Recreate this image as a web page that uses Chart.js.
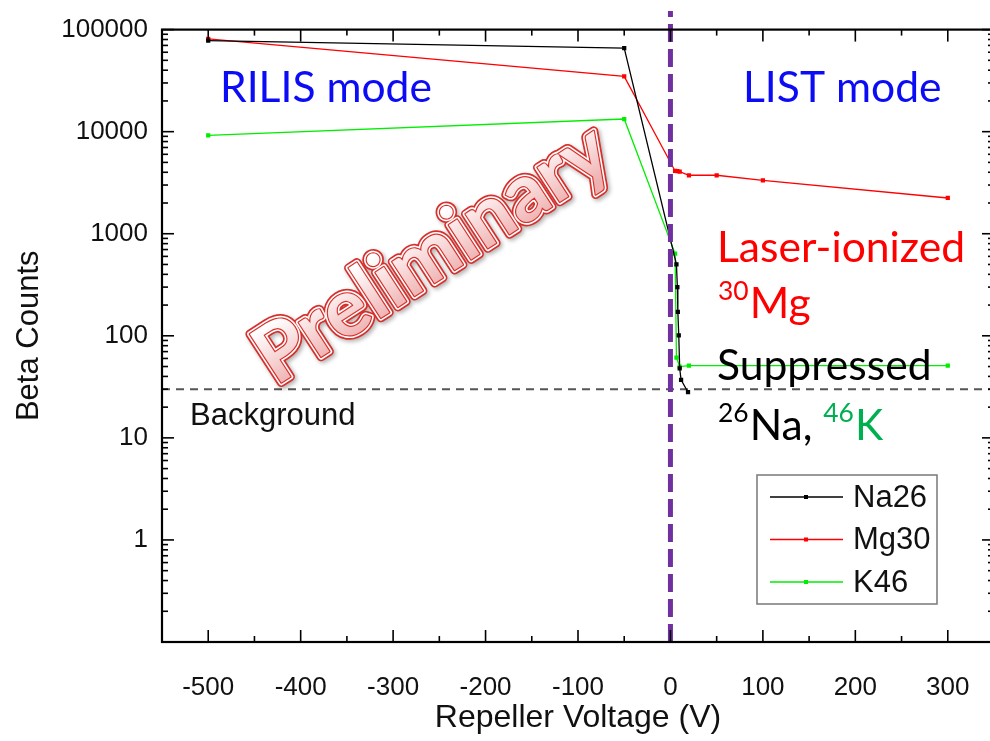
<!DOCTYPE html>
<html>
<head>
<meta charset="utf-8">
<script src="https://cdn.jsdelivr.net/npm/chart.js@4/dist/chart.umd.min.js"></script>
<style>
  html, body { margin: 0; padding: 0; background: #fff; overflow: hidden; }
  #wrap { width: 1000px; height: 741px; }
</style>
</head>
<body>
<div id="wrap"><canvas id="chart" width="1000" height="741"></canvas></div>
<script>
// beta counts vs repeller voltage, one list per isotope
var na26Voltage = [-500, -50, 6.5, 7.5, 8, 9, 10, 11.5, 19];
var na26Counts  = [78000, 65800, 500, 300, 172, 101, 48, 37, 28];
var mg30Voltage = [-500, -50, 5, 7.5, 10, 20, 50, 100, 300];
var mg30Counts  = [81000, 34800, 4120, 4100, 4050, 3740, 3740, 3340, 2240];
var k46Voltage  = [-500, -50, 5, 6.5, 10, 20, 300];
var k46Counts   = [9200, 13300, 640, 61, 50, 51, 51];
var seriesNames = ['Na26', 'Mg30', 'K46'];

var backgroundLevel = 30;
var modeBoundary = 0;
var xRange = [-550, 350];
var yRange = [0.1, 100000];
var xTickValues = [-500, -400, -300, -200, -100, 0, 100, 200, 300];
var yTickValues = [1, 10, 100, 1000, 10000, 100000];

var AXIS_FONT = '"Liberation Sans", Arial, sans-serif';
var NOTE_FONT = 'Lato, "Open Sans", sans-serif';

function pts(xs, ys) {
  return xs.map(function (x, i) { return { x: x, y: ys[i] }; });
}

function series(label, xs, ys, color) {
  return {
    label: label,
    data: pts(xs, ys),
    borderColor: color,
    backgroundColor: color,
    borderWidth: 1.3,
    pointStyle: 'rect',
    pointRadius: 3,
    pointBorderWidth: 0,
    order: 2
  };
}

function fitSize(ctx, text, font, width) {
  ctx.font = font.replace('SIZE', '100px');
  return 100 * width / ctx.measureText(text).width;
}

function line(ctx, x1, y1, x2, y2) {
  ctx.beginPath();
  ctx.moveTo(x1, y1);
  ctx.lineTo(x2, y2);
  ctx.stroke();
}

// box with inward ticks on all four sides
var frameTicks = {
  id: 'frameTicks',
  afterDatasetsDraw: function (chart) {
    var ctx = chart.ctx, a = chart.chartArea;
    var xs = chart.scales.x, ys = chart.scales.y;
    ctx.save();
    ctx.strokeStyle = '#000';
    ctx.lineWidth = 1.6;
    for (var v = -500; v <= 300; v += 50) {
      var px = xs.getPixelForValue(v);
      var len = v % 100 === 0 ? 12 : 6;
      line(ctx, px, a.bottom, px, a.bottom - len);
      line(ctx, px, a.top, px, a.top + len);
    }
    for (var e = -1; e <= 5; e++) {
      for (var m = 1; m < 10; m++) {
        var val = m * Math.pow(10, e);
        if (val <= yRange[0] || val > yRange[1]) continue;
        var py = ys.getPixelForValue(val);
        var l2 = m === 1 ? 12 : 6;
        line(ctx, a.left, py, a.left + l2, py);
        line(ctx, a.right, py, a.right - l2, py);
      }
    }
    ctx.lineWidth = 2.2;
    ctx.strokeRect(a.left, a.top, a.right - a.left, a.bottom - a.top);
    ctx.restore();
  }
};

// mode labels, isotope notes and the watermark
var notes = {
  id: 'notes',
  afterDatasetsDraw: function (chart) {
    var ctx = chart.ctx;
    ctx.save();
    ctx.textAlign = 'left';
    ctx.textBaseline = 'alphabetic';

    var size = fitSize(ctx, 'RILIS mode', 'SIZE ' + NOTE_FONT, 212);
    var big = size + 'px ' + NOTE_FONT;
    var sup = (size * 0.62) + 'px ' + NOTE_FONT;

    ctx.font = big;
    ctx.fillStyle = '#0b0bf5';
    ctx.fillText('RILIS mode', 220, 102);
    ctx.fillText('LIST mode', 743, 102);

    ctx.fillStyle = '#ff0000';
    ctx.fillText('Laser-ionized', 717, 262);
    ctx.font = sup;
    ctx.fillText('30', 718, 300);
    var w = ctx.measureText('30').width;
    ctx.font = big;
    ctx.fillText('Mg', 718 + w + 1, 318);

    ctx.fillStyle = '#000';
    ctx.fillText('Suppressed', 717, 380);
    ctx.font = sup;
    ctx.fillText('26', 718, 422);
    var x = 718 + ctx.measureText('26').width + 1;
    ctx.font = big;
    ctx.fillText('Na, ', x, 440);
    x += ctx.measureText('Na, ').width;
    ctx.fillStyle = '#00b050';
    ctx.font = sup;
    ctx.fillText('46', x, 422);
    x += ctx.measureText('46').width + 1;
    ctx.font = big;
    ctx.fillText('K', x, 440);

    ctx.fillStyle = '#111';
    ctx.font = '31px ' + AXIS_FONT;
    ctx.fillText('Background', 190, 425);

    // watermark
    ctx.translate(432, 254);
    ctx.rotate(-33 * Math.PI / 180);
    ctx.font = 'bold 80px ' + NOTE_FONT;
    ctx.textAlign = 'center';
    ctx.textBaseline = 'middle';
    ctx.lineJoin = 'round';
    ctx.shadowColor = 'rgba(0,0,0,0.3)';
    ctx.shadowBlur = 4;
    ctx.shadowOffsetX = 2;
    ctx.shadowOffsetY = 2;
    ctx.strokeStyle = '#d6302c';
    ctx.lineWidth = 9;
    ctx.strokeText('Preliminary', 0, 0);
    ctx.shadowColor = 'transparent';
    ctx.strokeStyle = '#fff';
    ctx.lineWidth = 5.5;
    ctx.strokeText('Preliminary', 0, 0);
    ctx.strokeStyle = '#d6302c';
    ctx.lineWidth = 2.4;
    ctx.strokeText('Preliminary', 0, 0);
    var g = ctx.createLinearGradient(0, -30, 0, 30);
    g.addColorStop(0, '#ffffff');
    g.addColorStop(1, '#efb0b0');
    ctx.fillStyle = g;
    ctx.fillText('Preliminary', 0, 0);
    ctx.restore();
  }
};

// boxed legend in the lower right corner
var boxLegend = {
  id: 'boxLegend',
  afterDraw: function (chart) {
    var ctx = chart.ctx;
    ctx.save();
    ctx.fillStyle = '#fff';
    ctx.fillRect(757, 475, 180, 129);
    ctx.strokeStyle = '#808080';
    ctx.lineWidth = 1.6;
    ctx.strokeRect(757, 475, 180, 129);
    ctx.font = '31px ' + AXIS_FONT;
    ctx.textBaseline = 'middle';
    for (var i = 0; i < seriesNames.length; i++) {
      var ds = chart.data.datasets[i];
      var y = 497 + i * 42.5;
      ctx.strokeStyle = ds.borderColor;
      ctx.lineWidth = 1.3;
      line(ctx, 770, y, 843, y);
      ctx.fillStyle = ds.borderColor;
      ctx.fillRect(804, y - 2, 4, 4);
      ctx.fillStyle = '#111';
      ctx.fillText(ds.label, 853, y + 1);
    }
    ctx.restore();
  }
};

var ctx = document.getElementById('chart').getContext('2d');
new Chart(ctx, {
  type: 'line',
  data: {
    datasets: [
      series(seriesNames[0], na26Voltage, na26Counts, '#000000'),
      series(seriesNames[1], mg30Voltage, mg30Counts, '#ff0000'),
      series(seriesNames[2], k46Voltage, k46Counts, '#00ee00'),
      {
        label: 'background',
        data: [{ x: xRange[0], y: backgroundLevel }, { x: xRange[1], y: backgroundLevel }],
        borderColor: '#555',
        borderWidth: 2,
        borderDash: [8, 6],
        pointRadius: 0,
        order: 3
      },
      {
        label: 'boundary',
        data: [{ x: modeBoundary, y: yRange[0] }, { x: modeBoundary, y: 152000 }],
        borderColor: '#7030a0',
        borderWidth: 5,
        borderDash: [18, 7],
        pointRadius: 0,
        clip: false,
        order: 1
      }
    ]
  },
  options: {
    responsive: false,
    animation: false,
    layout: { padding: { top: 24, right: 6, left: 0, bottom: 0 } },
    plugins: { legend: { display: false }, tooltip: { enabled: false } },
    scales: {
      x: {
        type: 'linear',
        min: xRange[0],
        max: xRange[1],
        grid: { display: false, drawTicks: false },
        border: { display: false },
        afterBuildTicks: function (s) { s.ticks = xTickValues.map(function (v) { return { value: v }; }); },
        afterFit: function (s) { s.height = 99; },
        ticks: { font: { family: AXIS_FONT, size: 26 }, color: '#111', padding: 30, maxRotation: 0 },
        title: { display: true, text: 'Repeller Voltage (V)', font: { family: AXIS_FONT, size: 32 }, color: '#111', padding: { top: 4, bottom: 4 } }
      },
      y: {
        type: 'logarithmic',
        min: yRange[0],
        max: yRange[1],
        grid: { display: false, drawTicks: false },
        border: { display: false },
        afterBuildTicks: function (s) { s.ticks = yTickValues.map(function (v) { return { value: v }; }); },
        afterFit: function (s) { s.width = 162; },
        ticks: {
          font: { family: AXIS_FONT, size: 26 },
          color: '#111',
          padding: 14,
          callback: function (v) { return String(v); }
        },
        title: { display: true, text: 'Beta Counts', font: { family: AXIS_FONT, size: 31 }, color: '#111', padding: { top: 11, bottom: 11 } }
      }
    }
  },
  plugins: [frameTicks, notes, boxLegend]
});
</script>
</body>
</html>
